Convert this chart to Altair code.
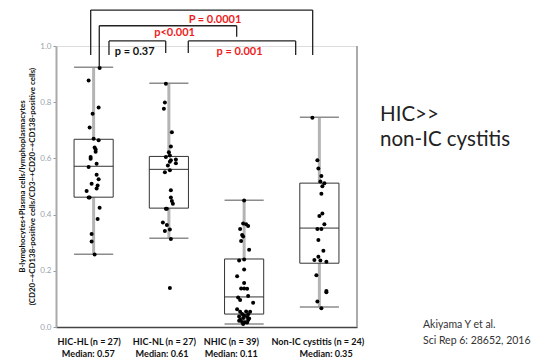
import altair as alt
import pandas as pd

# ---------------- data ----------------
n_labels = ["HIC-HL (n = 27)", "HIC-NL (n = 27)", "NHIC (n = 39)", "Non-IC cystitis (n = 24)"]
median_labels = ["Median: 0.57", "Median: 0.61", "Median: 0.11", "Median: 0.35"]
# small horizontal shifts of the two label lines from each category centre (category units)
n_shift = [-0.06, -0.06, -0.17, -0.02]
m_shift = [-0.07, -0.09, -0.17, 0.09]

hl_vals = [0.922, 0.877, 0.781, 0.759, 0.710, 0.670, 0.665, 0.639, 0.632, 0.624, 0.605, 0.599,
           0.581, 0.569, 0.542, 0.526, 0.510, 0.504, 0.493, 0.484, 0.461, 0.461, 0.424, 0.384,
           0.331, 0.304, 0.258]
hl_jit = [6, -5, 5, -1, -4, 0, 5, 1, 2, 2, -3, -3, 3, -5, 3, 5, -2, 4, 3, -7, -4, -5, 6, 4, -2, -2, 1]

nl_vals = [0.866, 0.799, 0.777, 0.693, 0.642, 0.622, 0.610, 0.605, 0.596, 0.593, 0.588, 0.583,
           0.575, 0.558, 0.551, 0.487, 0.461, 0.448, 0.439, 0.421, 0.421, 0.372, 0.363, 0.347,
           0.342, 0.313, 0.139]
nl_jit = [-3, -4, -5, 3, 2, 0, 1, -3, 7, 2, 1, 7, -1, 1, -4, 2, 2, 3, 4, -3, -2, -6, -2, 1, -4, 2, 1]

nh_vals = [0.450, 0.368, 0.366, 0.359, 0.349, 0.327, 0.322, 0.306, 0.275, 0.240, 0.237, 0.205,
           0.181, 0.157, 0.137, 0.137, 0.136, 0.110, 0.105, 0.096, 0.086, 0.063, 0.055, 0.054,
           0.054, 0.046, 0.045, 0.041, 0.037, 0.036, 0.032, 0.030, 0.026, 0.025, 0.022, 0.018,
           0.017, 0.016, 0.011]
nh_jit = [0, -1, 2, 4, -4, -2, -1, -3, 5, 0, -5, 0, -7, 0, -3, 0, 3, 4, -6, -4, 9, -7, 2, -4,
          6, -2, 4, 0, -5, 3, -1, 5, -4, 4, -5, -2, 1, 3, -1]

nc_vals = [0.745, 0.593, 0.564, 0.537, 0.518, 0.512, 0.501, 0.474, 0.404, 0.395, 0.366, 0.349,
           0.349, 0.310, 0.271, 0.250, 0.238, 0.237, 0.232, 0.184, 0.128, 0.124, 0.091, 0.067]
nc_jit = [-7, -2, -1, 2, 1, 5, 3, 2, 3, 0, 5, -2, 2, -1, 4, -1, -5, 1, 7, -3, 7, 7, -2, 2]

box_lo = [0.259, 0.316, 0.011, 0.071]
box_q1 = [0.462, 0.423, 0.046, 0.227]
box_med = [0.572, 0.561, 0.107, 0.352]
box_q3 = [0.668, 0.607, 0.242, 0.512]
box_hi = [0.924, 0.867, 0.451, 0.746]

# significance brackets (x in category units, y in data units)
br_left = [0.461, 0.575, 0.704, 1.758]
br_right = [3.411, 2.401, 1.458, 3.185]
br_top = [1.128, 1.072, 1.018, 1.018]
br_lbot = [0.968, 0.925, 0.968, 0.975]
br_rbot = [0.968, 1.033, 0.975, 0.968]
p_text = ["P = 0.0001", "p<0.001", "p = 0.37", "p = 0.001"]
p_x = [2.113, 1.575, 1.046, 2.439]
p_y = [1.093, 1.046, 0.980, 0.980]
p_col = ["#ee1c1c", "#ee1c1c", "#111111", "#ee1c1c"]

# ---------------- tables ----------------
HALF = 0.26
rows = []
for i, (vals, jit) in enumerate([(hl_vals, hl_jit), (nl_vals, nl_jit), (nh_vals, nh_jit), (nc_vals, nc_jit)]):
    for v, j in zip(vals, jit):
        rows.append({"x": i + 0.5 + j / 75.25, "v": v})
pts = pd.DataFrame(rows)

box = pd.DataFrame({
    "c": [i + 0.5 for i in range(4)],
    "l": [i + 0.5 - HALF for i in range(4)],
    "r": [i + 0.5 + HALF for i in range(4)],
    "lo": box_lo, "q1": box_q1, "med": box_med, "q3": box_q3, "hi": box_hi,
})

segs = []
for a, b, t, lb, rb in zip(br_left, br_right, br_top, br_lbot, br_rbot):
    segs.append({"x": a, "x2": b, "y": t, "y2": t})
    segs.append({"x": a, "x2": a, "y": t, "y2": lb})
    segs.append({"x": b, "x2": b, "y": t, "y2": rb})
segs = pd.DataFrame(segs)

ptab = pd.DataFrame({"x": p_x, "y": p_y, "t": p_text, "c": p_col})

labtab = pd.DataFrame(
    [{"x": i + 0.5 + s, "y": -0.0534, "t": t} for i, (t, s) in enumerate(zip(n_labels, n_shift))]
    + [{"x": i + 0.5 + s, "y": -0.0961, "t": t} for i, (t, s) in enumerate(zip(median_labels, m_shift))]
)

XS = alt.Scale(domain=[0, 4], nice=False, zero=False)
YS = alt.Scale(domain=[0, 1], nice=False, zero=False)

x_axis = alt.Axis(values=[0.5, 1.5, 2.5, 3.5], labels=False,
                  ticks=False, grid=False, title=None, domainColor="#444444", domainWidth=1.5)
y_axis = alt.Axis(values=[round(0.1 * k, 1) for k in range(11)],
                  labelExpr="round(datum.value*10) % 2 == 0 ? format(datum.value, '.1f') : ''",
                  grid=False, tickSize=3, tickColor="#999999", domainColor="#aaaaaa", domainWidth=2,
                  labelFont="Lato", labelFontSize=8, labelColor="#9aa4ae", labelPadding=2,
                  title=["B-lymphocytes+Plasma cells/lymphoplasmacytes",
                         "(CD20−+CD138-positive cells/CD3−+CD20−+CD138-positive  cells)"],
                  titleFont="Lato", titleFontSize=7.9, titleFontWeight="bold", titleColor="#111111",
                  titleAngle=-90, titleX=-38, titleY=140, titleBaseline="top", titleLineHeight=10,
                  titleAlign="center")

base_box = alt.Chart(box)

whisk = base_box.mark_rule(color="#b4b4b4", strokeWidth=3).encode(
    x=alt.X("c:Q", scale=XS, axis=x_axis),
    y=alt.Y("lo:Q", scale=YS, axis=y_axis),
    y2="hi:Q",
)
cap_hi = base_box.mark_rule(color="#8c8c8c", strokeWidth=1.5).encode(
    x=alt.X("l:Q", scale=XS), x2="r:Q", y=alt.Y("hi:Q", scale=YS))
cap_lo = base_box.mark_rule(color="#8c8c8c", strokeWidth=1.5).encode(
    x=alt.X("l:Q", scale=XS), x2="r:Q", y=alt.Y("lo:Q", scale=YS))
boxes = base_box.mark_bar(fill="white", stroke="#333333", strokeWidth=1).encode(
    x=alt.X("l:Q", scale=XS), x2="r:Q", y=alt.Y("q1:Q", scale=YS), y2="q3:Q")
meds = base_box.mark_rule(color="#333333", strokeWidth=1).encode(
    x=alt.X("l:Q", scale=XS), x2="r:Q", y=alt.Y("med:Q", scale=YS))

points = alt.Chart(pts).mark_circle(size=16, color="#000000", opacity=1).encode(
    x=alt.X("x:Q", scale=XS), y=alt.Y("v:Q", scale=YS))

right_border = alt.Chart(pd.DataFrame({"x": [4.0], "a": [0.0], "b": [1.0]})).mark_rule(
    color="#aaaaaa", strokeWidth=2).encode(
    x=alt.X("x:Q", scale=XS), y=alt.Y("a:Q", scale=YS), y2="b:Q")

brackets = alt.Chart(segs).mark_rule(color="#222222", strokeWidth=1.3).encode(
    x=alt.X("x:Q", scale=XS), x2="x2:Q", y=alt.Y("y:Q", scale=YS), y2="y2:Q")

ptexts = alt.Chart(ptab).mark_text(font="Lato", fontSize=11, fontWeight="bold",
                                   baseline="middle", align="center").encode(
    x=alt.X("x:Q", scale=XS), y=alt.Y("y:Q", scale=YS),
    text="t:N", color=alt.Color("c:N", scale=None))

cat_labels = alt.Chart(labtab).mark_text(font="Lato", fontSize=9.1, fontWeight="bold",
                                         color="#111111", baseline="middle", align="center").encode(
    x=alt.X("x:Q", scale=XS), y=alt.Y("y:Q", scale=YS), text="t:N")

side_txt = pd.DataFrame({"x": [4.306, 4.306], "y": [0.754, 0.665], "t": ["HIC>>", "non-IC cystitis"]})
side = alt.Chart(side_txt).mark_text(font="Lato", fontSize=20.5, color="#222222",
                                     align="left", baseline="middle").encode(
    x=alt.X("x:Q", scale=XS), y=alt.Y("y:Q", scale=YS), text="t:N")

cite_txt = pd.DataFrame({"x": [4.877, 4.877], "y": [0.007, -0.050],
                         "t": ["Akiyama Y et al.", "Sci Rep 6: 28652, 2016"]})
cite = alt.Chart(cite_txt).mark_text(font="Lato", fontSize=10.5, color="#333333",
                                     align="left", baseline="middle").encode(
    x=alt.X("x:Q", scale=XS), y=alt.Y("y:Q", scale=YS), text="t:N")

chart = alt.layer(whisk, cap_hi, cap_lo, boxes, meds, points, right_border,
                  brackets, ptexts, cat_labels, side, cite).properties(
    width=301, height=281,
    autosize=alt.AutoSizeParams(type="none"),
    padding={"left": 48, "top": 38, "right": 175, "bottom": 32},
).configure_view(stroke=None).configure(background="white")

chart.save("out.html", embed_options={"renderer": "svg", "actions": False})
